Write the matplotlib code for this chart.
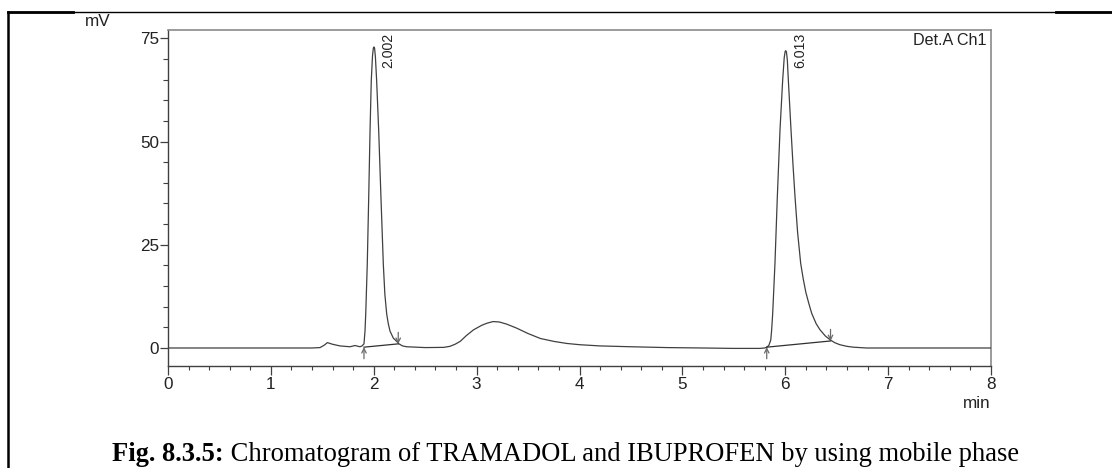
import matplotlib
matplotlib.use("Agg")
import matplotlib.pyplot as plt
from matplotlib.lines import Line2D
from matplotlib.ticker import MultipleLocator

# ---- data ----
time_min = [0.00, 0.50, 1.00, 1.40, 1.478, 1.52, 1.549, 1.60, 1.672, 1.769, 1.818, 1.866,
            1.886, 1.905, 1.915, 1.922, 1.937, 1.951, 1.964, 1.976, 1.988, 1.996, 2.002,
            2.008, 2.016, 2.028, 2.048, 2.070, 2.093, 2.108, 2.126, 2.142, 2.158, 2.190,
            2.223, 2.245, 2.28, 2.32, 2.50, 2.68, 2.74, 2.79, 2.84, 2.90, 2.97, 3.05,
            3.10, 3.16, 3.22, 3.29, 3.39, 3.50, 3.62, 3.75, 3.876, 4.00, 4.20, 4.50, 4.85,
            5.20, 5.50, 5.75, 5.80, 5.82, 5.840, 5.859, 5.868, 5.878, 5.900, 5.923, 5.949,
            5.975, 5.990, 5.999, 6.005, 6.012, 6.020, 6.030, 6.056, 6.075, 6.095, 6.120,
            6.150, 6.175, 6.200, 6.230, 6.257, 6.300, 6.338, 6.390, 6.435, 6.48, 6.53,
            6.60, 6.66, 6.79, 7.00, 7.50, 8.00]
signal_mv = [0.0, 0.0, 0.0, 0.0, 0.1, 0.7, 1.3, 0.9, 0.5, 0.3, 0.6, 0.3,
             0.5, 1.0, 4.1, 8.2, 20.3, 36.5, 52.7, 64.8, 70.8, 72.6, 72.9,
             72.6, 70.5, 64.8, 52.7, 36.5, 20.3, 13.0, 8.2, 5.8, 4.1, 2.4,
             1.6, 1.0, 0.5, 0.3, 0.1, 0.15, 0.4, 0.9, 1.6, 3.0, 4.4, 5.5,
             6.0, 6.4, 6.3, 5.8, 4.8, 3.5, 2.3, 1.6, 1.1, 0.8, 0.5, 0.3, 0.1,
             0.0, -0.1, -0.1, 0.0, 0.2, 0.6, 1.9, 4.4, 8.4, 20.5, 36.6, 52.8,
             64.9, 70.3, 71.8, 72.0, 71.6, 69.8, 64.9, 52.8, 44.5, 36.6, 28.0,
             20.5, 16.7, 13.5, 10.7, 8.4, 5.9, 4.4, 2.9, 2.0, 1.3, 0.8,
             0.4, 0.2, 0.0, 0.0, 0.0, 0.0]

peak_apex_time = [2.002, 6.005]
peak_labels = ["2.002", "6.013"]
peak_start_t = [1.905, 5.820]
peak_start_mv = [0.2, 0.2]
peak_end_t = [2.238, 6.440]
peak_end_mv = [1.0, 1.7]

x_ticks = [0, 1, 2, 3, 4, 5, 6, 7, 8]
y_ticks = [0, 25, 50, 75]

caption_bold = "Fig. 8.3.5:"
caption_rest = " Chromatogram of TRAMADOL and IBUPROFEN by using mobile phase"

# ---- figure ----
W, H = 1112, 468
fig = plt.figure(figsize=(W / 100, H / 100), dpi=100)
fig.patch.set_facecolor("white")

sans = ["Liberation Sans", "DejaVu Sans"]
serif = ["Liberation Serif", "DejaVu Serif"]

ax = fig.add_axes([168 / W, 1 - 366 / H, (991 - 168) / W, (366 - 30) / H])
ax.plot(time_min, signal_mv, color="#404040", lw=0.9, zorder=3)

# baselines under the integrated peaks
for ts, ms, te, me in zip(peak_start_t, peak_start_mv, peak_end_t, peak_end_mv):
    ax.plot([ts, te], [ms, me], color="#303030", lw=0.9, zorder=3)
    ax.annotate("", xy=(ts, ms), xytext=(ts, ms - 2.8),
                arrowprops=dict(arrowstyle="->", color="#6a6a6a", lw=0.9,
                                mutation_scale=8, shrinkA=0, shrinkB=0))
    ax.annotate("", xy=(te, me), xytext=(te, me + 2.8),
                arrowprops=dict(arrowstyle="->", color="#6a6a6a", lw=0.9,
                                mutation_scale=8, shrinkA=0, shrinkB=0))

# peak labels
for t, lab in zip(peak_apex_time, peak_labels):
    ax.annotate(lab, xy=(t, 76.4), xytext=(5.5, 0), textcoords="offset points",
                rotation=90, ha="left", va="top", fontsize=10.2, family=sans, color="#222222")

ax.set_xlim(0, 8)
ax.set_ylim(-4.36, 77.0)
ax.set_xticks(x_ticks)
ax.set_yticks(y_ticks)
ax.xaxis.set_minor_locator(MultipleLocator(0.2))
ax.yaxis.set_minor_locator(MultipleLocator(5))
ax.tick_params(axis="x", which="major", direction="out", length=6.5, width=0.9,
               color="#404040", pad=1.5, labelsize=12.3)
ax.tick_params(axis="x", which="minor", direction="out", length=3.2, width=0.8, color="#404040")
ax.tick_params(axis="y", which="major", direction="out", length=6, width=0.9,
               color="#404040", pad=0.5, labelsize=12.3)
ax.tick_params(axis="y", which="minor", direction="out", length=3.5, width=0.8, color="#404040")
for lab in ax.get_xticklabels() + ax.get_yticklabels():
    lab.set_family(sans)
    lab.set_color("#222222")

for side in ["left", "bottom"]:
    ax.spines[side].set_color("#404040")
    ax.spines[side].set_linewidth(1.0)
for side in ["top", "right"]:
    ax.spines[side].set_color("#8a8a8a")
    ax.spines[side].set_linewidth(1.2)

ax.text(0.995, 0.99, "Det.A Ch1", transform=ax.transAxes, ha="right", va="top",
        fontsize=11.6, family=sans, color="#222222")
fig.text(85 / W, 1 - 21 / H, "mV", ha="left", va="center", fontsize=12.3,
         family=sans, color="#222222")
fig.text(991 / W, 1 - 404 / H, "min", ha="right", va="center", fontsize=12.3,
         family=sans, color="#222222")

# outer page frame
fig.add_artist(Line2D([8 / W, 8 / W], [1 - 12 / H, 0], transform=fig.transFigure,
                      color="black", lw=1.8))
fig.add_artist(Line2D([8 / W, 1], [1 - 12 / H, 1 - 12 / H], transform=fig.transFigure,
                      color="black", lw=1.0))
fig.add_artist(Line2D([8 / W, 73 / W], [1 - 12 / H, 1 - 12 / H], transform=fig.transFigure,
                      color="black", lw=2.0))
fig.add_artist(Line2D([1056 / W, 1], [1 - 12 / H, 1 - 12 / H], transform=fig.transFigure,
                      color="black", lw=2.0))

# caption
cy = 1 - 461 / H
t1 = fig.text(112 / W, cy, caption_bold, ha="left", va="baseline", fontsize=19.1,
              family=serif, weight="bold", color="black")
fig.canvas.draw()
bb = t1.get_window_extent(renderer=fig.canvas.get_renderer())
fig.text(bb.x1 / W, cy, caption_rest, ha="left", va="baseline", fontsize=19.1,
         family=serif, color="black")

fig.savefig("out.png", dpi=100)
